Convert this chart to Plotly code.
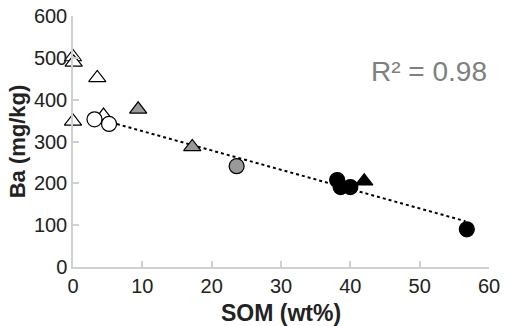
import plotly.graph_objects as go

open_tri_x = [0.0, 0.1, 3.5, 0.0, 4.4]
open_tri_y = [502, 489, 452, 348, 362]
open_circ_x = [3.1, 5.2]
open_circ_y = [353, 342]
grey_tri_x = [9.4, 17.2]
grey_tri_y = [377, 287]
grey_circ_x = [23.6]
grey_circ_y = [241]
black_circ_x = [38.1, 38.6, 40.0, 56.8]
black_circ_y = [208, 191, 191, 90]
black_tri_x = [42.0]
black_tri_y = [205]
trend_x = [5.5, 56.6]
trend_intercept = 371
trend_slope = -4.62
r2_text = "R² = 0.98"

fig = go.Figure()
trend_y = [trend_intercept + trend_slope * x for x in trend_x]
fig.add_trace(go.Scatter(x=trend_x, y=trend_y, mode="lines",
                         line=dict(color="black", width=2, dash="dot"), cliponaxis=False))

def add(xs, ys, symbol, fill, size):
    fig.add_trace(go.Scatter(x=xs, y=ys, mode="markers", cliponaxis=False,
                             marker=dict(symbol=symbol, size=size, color=fill,
                                         line=dict(color="black", width=1.2))))

add(open_tri_x, open_tri_y, "triangle-up", "white", 15)
add(open_circ_x, open_circ_y, "circle", "white", 15)
add(grey_tri_x, grey_tri_y, "triangle-up", "#999999", 15)
add(grey_circ_x, grey_circ_y, "circle", "#999999", 15)
add(black_circ_x, black_circ_y, "circle", "black", 15)
add(black_tri_x, black_tri_y, "triangle-up", "black", 15)

fig.add_annotation(x=1, y=0.777, xref="paper", yref="paper", xanchor="right", yanchor="middle",
                   text=r2_text, showarrow=False,
                   font=dict(family="Liberation Sans, Arial", size=28, color="#7f7f7f"))

axis_common = dict(showgrid=False, zeroline=False, showline=True, linecolor="#d0d0d0", linewidth=1.5,
                   ticks="inside", tickcolor="#d0d0d0", ticklen=6, tickwidth=1.5, automargin=False,
                   tickfont=dict(family="Liberation Sans, Arial", size=20, color="#222222"))

fig.update_layout(
    width=509, height=326, margin=dict(l=73, r=20, t=16, b=59),
    paper_bgcolor="white", plot_bgcolor="white", showlegend=False,
    xaxis=dict(range=[0, 60], tickvals=[0, 10, 20, 30, 40, 50, 60],
               title=dict(text="<b>SOM (wt%)</b>", standoff=12,
                          font=dict(family="Liberation Sans, Arial", size=23, color="#222222")),
               **axis_common),
    yaxis=dict(range=[0, 600], tickvals=[0, 100, 200, 300, 400, 500, 600],
               title=dict(text="<b>Ba (mg/kg)</b>", standoff=2,
                          font=dict(family="Liberation Sans, Arial", size=22, color="#222222")),
               **axis_common),
)

fig.write_html("out.html")
